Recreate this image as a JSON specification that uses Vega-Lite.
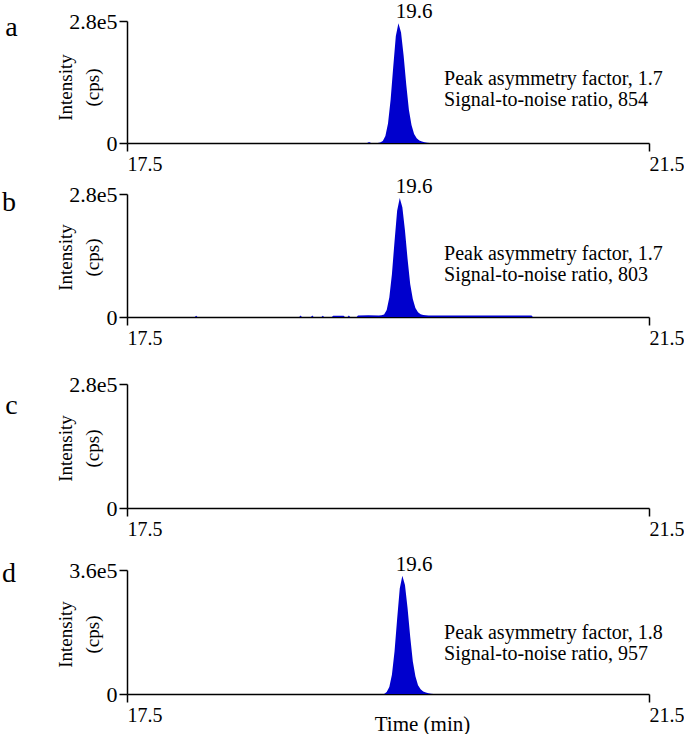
{
  "$schema": "https://vega.github.io/schema/vega-lite/v6.json",
  "background": "white",
  "padding": {"left": 2, "top": 1, "right": 0, "bottom": 2},
  "bounds": "flush",
  "spacing": 0,
  "datasets": {
    "chrom": [
      {"panel": "a", "t": 17.5, "v": 0},
      {"panel": "a", "t": 19.34, "v": 0},
      {"panel": "a", "t": 19.355, "v": 2500},
      {"panel": "a", "t": 19.37, "v": 0},
      {"panel": "a", "t": 19.42, "v": 0},
      {"panel": "a", "t": 19.44, "v": 1100},
      {"panel": "a", "t": 19.46, "v": 4650},
      {"panel": "a", "t": 19.48, "v": 16200},
      {"panel": "a", "t": 19.5, "v": 44800},
      {"panel": "a", "t": 19.52, "v": 99000},
      {"panel": "a", "t": 19.54, "v": 174600},
      {"panel": "a", "t": 19.56, "v": 245600},
      {"panel": "a", "t": 19.58, "v": 275000},
      {"panel": "a", "t": 19.6, "v": 253800},
      {"panel": "a", "t": 19.62, "v": 199700},
      {"panel": "a", "t": 19.64, "v": 133900},
      {"panel": "a", "t": 19.66, "v": 76500},
      {"panel": "a", "t": 19.68, "v": 41300},
      {"panel": "a", "t": 19.7, "v": 20600},
      {"panel": "a", "t": 19.72, "v": 11000},
      {"panel": "a", "t": 19.74, "v": 6000},
      {"panel": "a", "t": 19.76, "v": 3300},
      {"panel": "a", "t": 19.78, "v": 1650},
      {"panel": "a", "t": 19.8, "v": 550},
      {"panel": "a", "t": 19.82, "v": 0},
      {"panel": "a", "t": 21.5, "v": 0},

      {"panel": "b", "t": 17.5, "v": 0},
      {"panel": "b", "t": 18.02, "v": 0},
      {"panel": "b", "t": 18.03, "v": 3000},
      {"panel": "b", "t": 18.04, "v": 0},
      {"panel": "b", "t": 18.82, "v": 0},
      {"panel": "b", "t": 18.83, "v": 3500},
      {"panel": "b", "t": 18.84, "v": 0},
      {"panel": "b", "t": 18.91, "v": 0},
      {"panel": "b", "t": 18.92, "v": 3500},
      {"panel": "b", "t": 18.93, "v": 0},
      {"panel": "b", "t": 18.99, "v": 0},
      {"panel": "b", "t": 19.0, "v": 3000},
      {"panel": "b", "t": 19.01, "v": 0},
      {"panel": "b", "t": 19.07, "v": 0},
      {"panel": "b", "t": 19.08, "v": 3000},
      {"panel": "b", "t": 19.16, "v": 3000},
      {"panel": "b", "t": 19.17, "v": 0},
      {"panel": "b", "t": 19.19, "v": 0},
      {"panel": "b", "t": 19.2, "v": 3500},
      {"panel": "b", "t": 19.21, "v": 0},
      {"panel": "b", "t": 19.26, "v": 0},
      {"panel": "b", "t": 19.27, "v": 3500},
      {"panel": "b", "t": 19.35, "v": 3800},
      {"panel": "b", "t": 19.43, "v": 3500},
      {"panel": "b", "t": 19.45, "v": 3800},
      {"panel": "b", "t": 19.47, "v": 5500},
      {"panel": "b", "t": 19.49, "v": 15900},
      {"panel": "b", "t": 19.51, "v": 44200},
      {"panel": "b", "t": 19.53, "v": 97600},
      {"panel": "b", "t": 19.55, "v": 172100},
      {"panel": "b", "t": 19.57, "v": 242000},
      {"panel": "b", "t": 19.59, "v": 271000},
      {"panel": "b", "t": 19.61, "v": 250100},
      {"panel": "b", "t": 19.63, "v": 196700},
      {"panel": "b", "t": 19.65, "v": 132000},
      {"panel": "b", "t": 19.67, "v": 75300},
      {"panel": "b", "t": 19.69, "v": 40700},
      {"panel": "b", "t": 19.71, "v": 20300},
      {"panel": "b", "t": 19.73, "v": 10800},
      {"panel": "b", "t": 19.75, "v": 6500},
      {"panel": "b", "t": 19.77, "v": 4500},
      {"panel": "b", "t": 19.79, "v": 3800},
      {"panel": "b", "t": 19.81, "v": 3500},
      {"panel": "b", "t": 20.0, "v": 3300},
      {"panel": "b", "t": 20.2, "v": 3600},
      {"panel": "b", "t": 20.4, "v": 3400},
      {"panel": "b", "t": 20.6, "v": 3500},
      {"panel": "b", "t": 20.61, "v": 0},
      {"panel": "b", "t": 21.5, "v": 0},

      {"panel": "c", "t": 17.5, "v": 0},
      {"panel": "c", "t": 21.5, "v": 0},

      {"panel": "d", "t": 17.5, "v": 0},
      {"panel": "d", "t": 19.47, "v": 0},
      {"panel": "d", "t": 19.49, "v": 5800},
      {"panel": "d", "t": 19.51, "v": 20200},
      {"panel": "d", "t": 19.53, "v": 55900},
      {"panel": "d", "t": 19.55, "v": 123500},
      {"panel": "d", "t": 19.57, "v": 217800},
      {"panel": "d", "t": 19.59, "v": 306300},
      {"panel": "d", "t": 19.61, "v": 343000},
      {"panel": "d", "t": 19.63, "v": 316600},
      {"panel": "d", "t": 19.65, "v": 249000},
      {"panel": "d", "t": 19.67, "v": 167000},
      {"panel": "d", "t": 19.69, "v": 95400},
      {"panel": "d", "t": 19.71, "v": 51500},
      {"panel": "d", "t": 19.73, "v": 25700},
      {"panel": "d", "t": 19.75, "v": 13700},
      {"panel": "d", "t": 19.77, "v": 7500},
      {"panel": "d", "t": 19.79, "v": 4100},
      {"panel": "d", "t": 19.81, "v": 2060},
      {"panel": "d", "t": 19.83, "v": 690},
      {"panel": "d", "t": 19.85, "v": 0},
      {"panel": "d", "t": 21.5, "v": 0}
    ],
    "peaks": [
      {"panel": "a", "t": 19.56, "v": 275000, "label": "19.6"},
      {"panel": "b", "t": 19.56, "v": 271000, "label": "19.6"},
      {"panel": "d", "t": 19.56, "v": 343000, "label": "19.6"}
    ],
    "notes": [
      {"panel": "a", "t": 19.93, "v": 146000, "label": "Peak asymmetry factor, 1.7\nSignal-to-noise ratio, 854"},
      {"panel": "b", "t": 19.93, "v": 144500, "label": "Peak asymmetry factor, 1.7\nSignal-to-noise ratio, 803"},
      {"panel": "d", "t": 19.93, "v": 175700, "label": "Peak asymmetry factor, 1.8\nSignal-to-noise ratio, 957"}
    ]
  },
  "vconcat": [
    {
      "width": 522,
      "height": 122,
      "title": {"text": "a", "dy": -7},
      "encoding": {
        "x": {"field": "t", "type": "quantitative", "scale": {"domain": [17.5, 21.5], "nice": false, "zero": false},
              "axis": {"values": [17.5, 21.5], "format": ".1f", "labelAlign": "left", "labelDx": -3, "title": null}},
        "y": {"field": "v", "type": "quantitative", "scale": {"domain": [0, 280000], "nice": false, "range": [122, 0]},
              "axis": {"values": [0, 280000], "labelExpr": "datum.value == 0 ? '0' : '2.8e5'", "title": ["Intensity", "(cps)"], "titleX": -52, "titleY": 66}}
      },
      "layer": [
        {"data": {"name": "chrom"}, "transform": [{"filter": "datum.panel == 'a'"}], "mark": {"type": "area", "color": "#0000CD", "interpolate": "linear"}},
        {"data": {"name": "peaks"}, "transform": [{"filter": "datum.panel == 'a'"}], "mark": {"type": "text", "align": "left", "baseline": "bottom", "dy": -1, "fontSize": 21}, "encoding": {"text": {"field": "label"}}},
        {"data": {"name": "notes"}, "transform": [{"filter": "datum.panel == 'a'"}], "mark": {"type": "text", "align": "left", "baseline": "middle", "fontSize": 20, "lineHeight": 21, "lineBreak": "\n"}, "encoding": {"text": {"field": "label"}}}
      ]
    },
    {
      "width": 522,
      "height": 174,
      "title": {"text": "b", "dy": 46},
      "encoding": {
        "x": {"field": "t", "type": "quantitative", "scale": {"domain": [17.5, 21.5], "nice": false, "zero": false},
              "axis": {"values": [17.5, 21.5], "format": ".1f", "labelAlign": "left", "labelDx": -3, "title": null}},
        "y": {"field": "v", "type": "quantitative", "scale": {"domain": [0, 280000], "nice": false, "range": [174, 51]},
              "axis": {"values": [0, 280000], "labelExpr": "datum.value == 0 ? '0' : '2.8e5'", "title": ["Intensity", "(cps)"], "titleX": -52, "titleY": 114}}
      },
      "layer": [
        {"data": {"name": "chrom"}, "transform": [{"filter": "datum.panel == 'b'"}], "mark": {"type": "area", "color": "#0000CD", "interpolate": "linear"}},
        {"data": {"name": "peaks"}, "transform": [{"filter": "datum.panel == 'b'"}], "mark": {"type": "text", "align": "left", "baseline": "bottom", "dy": -1, "fontSize": 21}, "encoding": {"text": {"field": "label"}}},
        {"data": {"name": "notes"}, "transform": [{"filter": "datum.panel == 'b'"}], "mark": {"type": "text", "align": "left", "baseline": "middle", "fontSize": 20, "lineHeight": 21, "lineBreak": "\n"}, "encoding": {"text": {"field": "label"}}}
      ]
    },
    {
      "width": 522,
      "height": 191,
      "title": {"text": "c", "dy": 75},
      "encoding": {
        "x": {"field": "t", "type": "quantitative", "scale": {"domain": [17.5, 21.5], "nice": false, "zero": false},
              "axis": {"values": [17.5, 21.5], "format": ".1f", "labelAlign": "left", "labelDx": -3, "title": null}},
        "y": {"field": "v", "type": "quantitative", "scale": {"domain": [0, 280000], "nice": false, "range": [191, 67]},
              "axis": {"values": [0, 280000], "labelExpr": "datum.value == 0 ? '0' : '2.8e5'", "title": ["Intensity", "(cps)"], "titleX": -52, "titleY": 131}}
      },
      "layer": [
        {"data": {"name": "chrom"}, "transform": [{"filter": "datum.panel == 'c'"}], "mark": {"type": "area", "color": "#0000CD", "interpolate": "linear"}}
      ]
    },
    {
      "width": 522,
      "height": 186,
      "title": {"text": "d", "dy": 52},
      "encoding": {
        "x": {"field": "t", "type": "quantitative", "scale": {"domain": [17.5, 21.5], "nice": false, "zero": false},
              "axis": {"values": [17.5, 21.5], "format": ".1f", "labelAlign": "left", "labelDx": -3, "title": "Time (min)", "titleX": 295, "titleY": 30, "titleBaseline": "middle", "titleFontSize": 21}},
        "y": {"field": "v", "type": "quantitative", "scale": {"domain": [0, 360000], "nice": false, "range": [186, 62]},
              "axis": {"values": [0, 360000], "labelExpr": "datum.value == 0 ? '0' : '3.6e5'", "title": ["Intensity", "(cps)"], "titleX": -52, "titleY": 126}}
      },
      "layer": [
        {"data": {"name": "chrom"}, "transform": [{"filter": "datum.panel == 'd'"}], "mark": {"type": "area", "color": "#0000CD", "interpolate": "linear"}},
        {"data": {"name": "peaks"}, "transform": [{"filter": "datum.panel == 'd'"}], "mark": {"type": "text", "align": "left", "baseline": "bottom", "dy": -1, "fontSize": 21}, "encoding": {"text": {"field": "label"}}},
        {"data": {"name": "notes"}, "transform": [{"filter": "datum.panel == 'd'"}], "mark": {"type": "text", "align": "left", "baseline": "middle", "fontSize": 20, "lineHeight": 21, "lineBreak": "\n"}, "encoding": {"text": {"field": "label"}}}
      ]
    }
  ],
  "config": {
    "font": "Liberation Serif",
    "view": {"stroke": null},
    "axis": {
      "grid": false,
      "domainColor": "black",
      "domainWidth": 1.5,
      "tickColor": "black",
      "tickWidth": 1.5,
      "tickSize": 8,
      "labelColor": "black",
      "labelFont": "Liberation Serif",
      "labelFontSize": 20,
      "labelPadding": 3,
      "labelOverlap": false,
      "labelFlush": false,
      "labelBound": false,
      "titleColor": "black",
      "titleFont": "Liberation Serif",
      "titleFontSize": 19,
      "titleFontWeight": "normal",
      "titleLineHeight": 27
    },
    "axisY": {"labelPadding": 2, "labelFontSize": 22, "titleAngle": -90, "titleBaseline": "bottom"},
    "text": {"font": "Liberation Serif", "color": "black"},
    "title": {
      "orient": "left",
      "anchor": "end",
      "frame": "group",
      "angle": 0,
      "align": "right",
      "baseline": "middle",
      "font": "Liberation Serif",
      "fontSize": 28,
      "fontWeight": "normal",
      "color": "black",
      "offset": 26
    }
  }
}
